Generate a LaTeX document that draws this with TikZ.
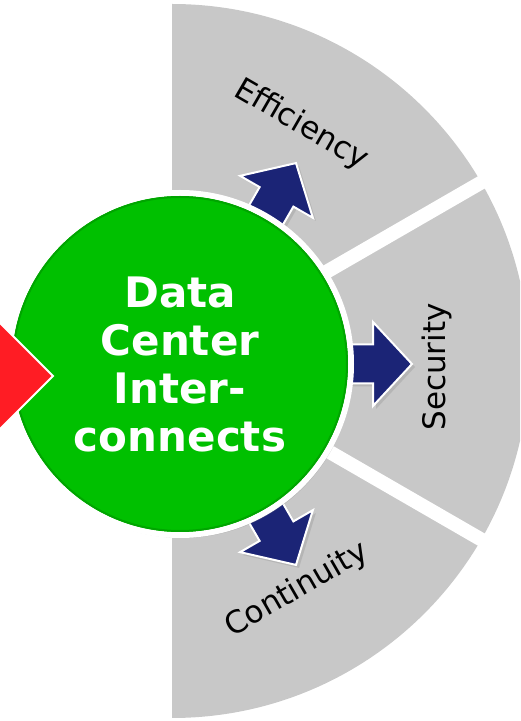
\documentclass[tikz,border=0pt]{standalone}
\usepackage{fontspec}
\setmainfont{DejaVu Sans}
\usetikzlibrary{positioning}
\usetikzlibrary{shadows}
\definecolor{sectgray}{RGB}{200,200,200}
\definecolor{hubgreen}{RGB}{0,192,0}
\definecolor{rimgreen}{RGB}{0,165,0}
\definecolor{arrownavy}{RGB}{27,36,118}
\definecolor{inred}{RGB}{255,28,36}
\begin{document}
\begin{tikzpicture}
[
x=1pt, y=1pt,
hub-a/.style={circle,draw=white,line width=6pt,fill=hubgreen,minimum size=342pt,inner sep=0pt,
  drop shadow={opacity=0.3,shadow xshift=2pt,shadow yshift=-3pt}},
title-a/.style={text=white,align=center,font=\fontsize{42}{48}\selectfont\bfseries},
label-a/.style={black,font=\fontsize{31}{36}\selectfont},
arrow-a/.style={fill=arrownavy,draw=white,line width=2pt,
  drop shadow={opacity=0.25,shadow xshift=3pt,shadow yshift=-3pt}},
in-a/.style={fill=inred,draw=white,line width=2pt},
gap-a/.style={white,line width=14pt},
]
\useasboundingbox (0,0) rectangle (520,721);
\clip (0,0) rectangle (520,721);
% half disc with three sectors
\coordinate (s0) at (172,360);
\fill[sectgray] (172,3) arc[start angle=-90, end angle=90, radius=357] -- cycle;
\draw[gap-a] (s0) -- ++(30:420);
\draw[gap-a] (s0) -- ++(-30:420);
% outgoing arrows
\coordinate (c0) at (180,357);
\foreach \a in {60,0,-60}{
  \begin{scope}[shift={(c0)},rotate=\a]
  \draw[arrow-a] (140,-19.5) -- (193,-19.5) -- (193,-42) -- (232,0)
     -- (193,42) -- (193,19.5) -- (140,19.5) -- cycle;
  \end{scope}
}
% hub
\node (dci) [hub-a, title-a] at (c0) {Data\\Center\\Inter-\\connects};
\draw[rimgreen, line width=2pt] (dci.center) circle (167);
% incoming arrow
\draw[in-a] (-40,315) -- (-3,315) -- (-3,289) -- (53,345) -- (-3,401) -- (-3,375) -- (-40,375) -- cycle;
% labels
\node (eff) [label-a, rotate=-30] at (301,596) {Efficiency};
\node (sec) [label-a, rotate=90]  at (437,354) {Security};
\node (con) [label-a, rotate=30]  at (297,131) {Continuity};
\end{tikzpicture}
\end{document}
